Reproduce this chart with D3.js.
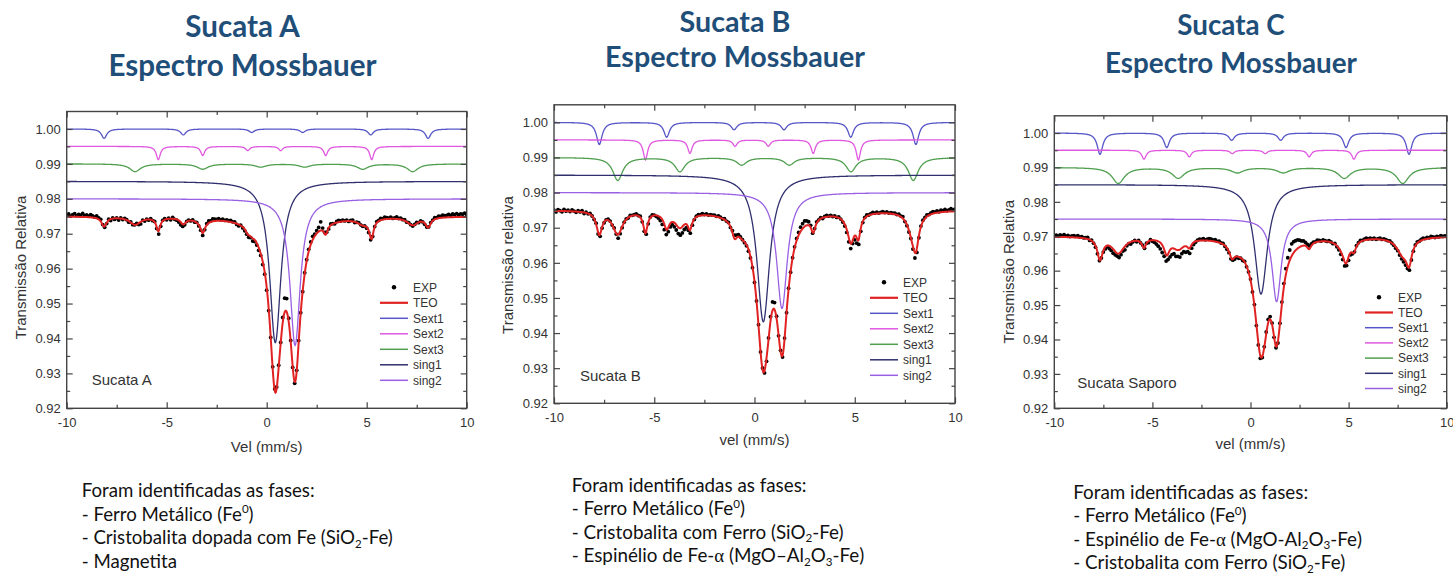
<!DOCTYPE html>
<html>
<head>
<meta charset="utf-8">
<script src="https://cdn.jsdelivr.net/npm/d3@7"></script>
<style>
  body { margin: 0; background: #fff; }
  svg { display: block; }
</style>
</head>
<body>
<svg id="chart" width="1453" height="574"></svg>
<script>
// ---- data ----
var velTicks = [-10, -5, 0, 5, 10];
var velMinor = [-7.5, -2.5, 2.5, 7.5];
var transTicks = [0.92, 0.93, 0.94, 0.95, 0.96, 0.97, 0.98, 0.99, 1.00];
var transMinor = [0.925, 0.935, 0.945, 0.955, 0.965, 0.975, 0.985, 0.995];
var legendNames = ["EXP", "TEO", "Sext1", "Sext2", "Sext3", "sing1", "sing2"];

var titles = ["Sucata A", "Sucata B", "Sucata C"];
var sampleLabels = ["Sucata A", "Sucata B", "Sucata Saporo"];
var xTitles = ["Vel (mm/s)", "vel (mm/s)", "vel (mm/s)"];
var yTitles = ["Transmissão Relativa", "Transmissão relativa", "Transmissão Relativa"];

// fitted lines: positions (mm/s), depths, half widths, baselines (Sext1, Sext2, Sext3, sing1, sing2, TEO)
var posA = [[-8.13, -4.17, -0.75, 1.80, 5.20, 8.07],
            [-5.42, -3.20, -0.95, 0.70, 2.95, 5.25],
            [-6.58, -3.20, -0.30, 1.90, 4.80, 7.30],
            [0.43], [1.42]];
var depthA = [[0.0027, 0.0017, 0.0010, 0.0010, 0.0017, 0.0027],
              [0.0038, 0.0026, 0.0012, 0.0012, 0.0026, 0.0038],
              [0.0022, 0.0015, 0.0009, 0.0009, 0.0015, 0.0022],
              [0.0462], [0.0420]];
var hwhmA = [0.16, 0.12, 0.33, 0.34, 0.31];
var baseA = [1.000, 0.995, 0.990, 0.985, 0.980, 0.975];

var posB = [[-7.74, -4.38, -1.02, 1.47, 4.80, 8.05],
            [-5.44, -3.22, -0.97, 0.69, 2.93, 5.18],
            [-6.82, -3.72, -0.64, 1.74, 4.81, 7.92],
            [0.44], [1.37]];
var depthB = [[0.0063, 0.0042, 0.0021, 0.0021, 0.0042, 0.0063],
              [0.0057, 0.0038, 0.0018, 0.0018, 0.0038, 0.0057],
              [0.0065, 0.0040, 0.0021, 0.0021, 0.0040, 0.0065],
              [0.0418], [0.0330]];
var hwhmB = [0.17, 0.13, 0.30, 0.38, 0.32];
var baseB = [1.000, 0.995, 0.990, 0.985, 0.980, 0.975];

var posC = [[-7.67, -4.27, -0.96, 1.54, 4.87, 8.08],
            [-5.43, -3.12, -0.93, 0.75, 2.99, 5.27],
            [-6.74, -3.68, -0.67, 1.67, 4.78, 7.76],
            [0.535], [1.33]];
var depthC = [[0.0062, 0.0042, 0.0021, 0.0021, 0.0042, 0.0062],
              [0.0026, 0.0019, 0.0010, 0.0010, 0.0019, 0.0026],
              [0.0046, 0.0031, 0.0015, 0.0015, 0.0031, 0.0046],
              [0.0318], [0.0240]];
var hwhmC = [0.17, 0.13, 0.38, 0.39, 0.28];
var baseC = [1.000, 0.995, 0.990, 0.985, 0.975, 0.970];

// EXP: deviation of each channel (-10 .. 10 mm/s, every 0.1) from TEO, in units of 1e-4
var residA = [
  4, 8, 2, 6, 9, 3, 7, 5, 10, 4,
  6, 3, 8, 5, 2, 7, 4, 6, 1, -3,
  -2, 3, -4, 2, -3, 1, -5, 2, -2, 3,
  1, -3, 2, -2, 0, 3, -4, -6, 2, -3,
  1, -2, 3, -1, 2, -4, -9, -5, 2, 3,
  -2, 2, -3, 4, -1, -2, -5, -8, -6, -3,
  1, 2, -1, 3, -2, 1, -3, -4, -7, -2,
  4, 6, 3, 7, 5, 4, 6, 3, 5, 2,
  4, 3, 5, 2, 3, -2, -4, 1, -3, -5,
  -4, -6, -3, -8, -5, -6, -8, -5, -9, -6,
  -8, -5, 0, 6, 4, 3, 5, 2, 15, 40,
  38, 10, 3, -2, -4, 2, 4, 1, -2, 3,
  3, 6, 8, 10, 6, 8, 12, 25, 8, 4,
  2, -3, 4, 1, -2, 3, 5, 2, 4, 1,
  3, -1, 2, 4, -2, 1, 3, 0, -2, 1,
  -3, -5, -6, -3, 1, 4, 2, 5, 3, 6,
  4, 2, 5, 1, 3, 6, 2, 4, 1, 3,
  -1, 2, 0, -2, 1, 3, -1, 2, 0, -3,
  -2, 1, 3, 2, 5, 3, 6, 4, 7, 5,
  6, 8, 5, 9, 7, 10, 6, 9, 8, 11,
  7];
var residB = [
  2, -3, 4, 1, -2, 5, 0, 3, -1, 4,
  1, -2, 3, 0, 4, -3, 2, -1, 3, 0,
  -2, 3, -4, -6, -3, -2, 1, 3, 2, -1,
  3, -2, -10, -6, -3, 1, 2, -1, 3, 1,
  2, 4, 1, 3, -2, -5, -8, -4, 2, 3,
  1, -3, -6, -10, -14, -16, -15, -12, -10, -8,
  -12, -15, -18, -20, -18, -14, -10, -8, -10, -6,
  -2, 2, 4, 3, 5, 2, 4, 1, 3, 2,
  3, 1, 4, 2, -1, 3, 0, 2, -2, 5,
  10, 8, 6, 3, 1, -2, -3, -5, -4, -2,
  -3, 0, 2, -2, 4, -6, -10, 5, 12, 24,
  20, 6, -3, 4, -5, 2, -1, 3, -2, 1,
  3, 6, 8, 12, 14, 16, 13, 10, 6, -2,
  2, 4, 1, 3, -2, 2, 4, 1, 3, 0,
  2, -1, 3, 0, -3, -5, -8, -12, -14, -10,
  -12, -15, -14, -8, -3, 2, 4, 1, 3, 5,
  2, 4, 1, 3, 5, 2, 4, 1, 3, 2,
  3, 1, 4, 2, 5, -2, -3, -5, -2, -8,
  -15, -12, -6, 2, 4, 3, 5, 2, 4, 6,
  3, 5, 2, 6, 4, 7, 3, 5, 8, 4,
  6];
var residC = [
  3, 5, 2, 6, 4, 7, 3, 5, 2, 4,
  5, 3, 6, 2, 4, 1, 3, 5, -2, 2,
  -2, -4, -5, -3, -1, -4, -6, -3, -8, -10,
  -12, -10, -8, -12, -9, -6, -10, -4, -2, -6,
  -2, 1, -3, 2, -1, 3, -2, 1, -4, 2,
  -3, -6, -10, -14, -18, -22, -20, -18, -16, -20,
  -18, -15, -20, -18, -22, -16, -14, -18, -12, -15,
  -10, -6, -2, 2, 4, 3, 5, 2, 4, 6,
  5, 3, 6, 2, 4, 1, 3, -2, -4, -3,
  -5, -3, -6, -2, -4, -1, -3, 2, -2, 0,
  3, -2, 4, -4, -6, -8, -3, 2, 6, 10,
  8, 4, -2, -4, -6, 2, 6, 10, 18, 25,
  30, 35, 32, 28, 25, 20, 15, 14, 10, 9,
  9, 6, 4, 2, 5, 3, 1, 4, 2, 0,
  3, 1, -2, 2, -3, -5, -8, -10, -12, -8,
  -10, -6, -3, 1, 3, 2, 4, 1, 3, 5,
  2, 4, 1, 3, 0, 2, 4, 1, 3, 2,
  1, 3, 0, -2, -4, -3, -6, -8, -10, -12,
  -8, -10, -6, -3, 2, 4, 1, 3, 5, 2,
  4, 2, 5, 3, 1, 4, 2, 5, 3, 4,
  3];

// notes below each chart: [text, kind]
var notesA = [
  [["Foram identificadas as fases:"]],
  [["- Ferro Metálico (Fe"], ["0", "sup"], [")"]],
  [["- Cristobalita dopada com Fe (SiO"], ["2", "sub"], ["-Fe)"]],
  [["- Magnetita"]]
];
var notesB = [
  [["Foram identificadas as fases:"]],
  [["- Ferro Metálico (Fe"], ["0", "sup"], [")"]],
  [["- Cristobalita com Ferro (SiO"], ["2", "sub"], ["-Fe)"]],
  [["- Espinélio de Fe-"], ["α", "greek"], [" (MgO–Al"], ["2", "sub"], ["O"], ["3", "sub"], ["-Fe)"]]
];
var notesC = [
  [["Foram identificadas as fases:"]],
  [["- Ferro Metálico (Fe"], ["0", "sup"], [")"]],
  [["- Espinélio de Fe-"], ["α", "greek"], [" (MgO-Al"], ["2", "sub"], ["O"], ["3", "sub"], ["-Fe)"]],
  [["- Cristobalita com Ferro (SiO"], ["2", "sub"], ["-Fe)"]]
];

// ---- styles / layout ----
var compColors = ["#5656c8", "#e058e0", "#4f9f4f", "#30306f", "#9a60e4"];
var teoColor = "#e02222";
var titleColor = "#1f4e79";
var axisFont = "'Liberation Sans', Arial, sans-serif";
var bodyFont = "Lato, 'Open Sans', sans-serif";

var layout = [
  {left: 66.7, right: 466.7, top: 111.5, bottom: 408.3, titleCx: 242.5, t1: 37.3, t2: 76, titleW: 268,
   noteX: 81.7, noteY: 497, noteW: 233, legX: 380, legY: 287.3, legDy: 15.5,
   sampleX: 91.7, sampleY: 385, yTitleX: 20.7, yTitleY: 267.5, xTitleY: 446.7},
  {left: 554, right: 955, top: 104.8, bottom: 403.3, titleCx: 735, t1: 31.7, t2: 66.7, titleW: 260,
   noteX: 571.7, noteY: 491.5, noteW: 235, legX: 870, legY: 282.3, legDy: 15.5,
   sampleX: 580, sampleY: 381, yTitleX: 507.3, yTitleY: 265, xTitleY: 440},
  {left: 1054.3, right: 1446.7, top: 115.8, bottom: 408.3, titleCx: 1231, t1: 35, t2: 73.3, titleW: 252,
   noteX: 1073.3, noteY: 498.5, noteW: 235, legX: 1365, legY: 297.3, legDy: 15.2,
   sampleX: 1077.3, sampleY: 388.3, yTitleX: 1009, yTitleY: 271.7, xTitleY: 444.3}
];

var panels = [
  {pos: posA, depth: depthA, hwhm: hwhmA, base: baseA, resid: residA, notes: notesA},
  {pos: posB, depth: depthB, hwhm: hwhmB, base: baseB, resid: residB, notes: notesB},
  {pos: posC, depth: depthC, hwhm: hwhmC, base: baseC, resid: residC, notes: notesC}
];

var svg = d3.select("#chart");

// lorentzian absorption of one component at velocity v
function absorb(v, pos, depth, g) {
  var s = 0;
  for (var i = 0; i < pos.length; i++) {
    s += depth[i] * g * g / ((v - pos[i]) * (v - pos[i]) + g * g);
  }
  return s;
}

function fitWidth(sel, target) {
  var w = sel.node().getComputedTextLength();
  var fs = parseFloat(sel.attr("font-size"));
  sel.attr("font-size", fs * target / w);
  return fs * target / w;
}

panels.forEach(function(p, k) {
  var L = layout[k];
  if (p.resid.length != 201) throw new Error("resid length " + k + ": " + p.resid.length);

  var x = d3.scaleLinear().domain([-10, 10]).range([L.left, L.right]);
  var y = d3.scaleLinear().domain([0.92, 1.005]).range([L.bottom, L.top]);

  function teo(v) {
    var s = 0;
    for (var c = 0; c < 5; c++) s += absorb(v, p.pos[c], p.depth[c], p.hwhm[c]);
    return p.base[5] - s;
  }

  var g = svg.append("g");
  var clip = "clip" + k;
  g.append("clipPath").attr("id", clip).append("rect")
    .attr("x", L.left).attr("y", L.top)
    .attr("width", L.right - L.left).attr("height", L.bottom - L.top);

  var plot = g.append("g").attr("clip-path", "url(#" + clip + ")");
  var vel = d3.range(-10, 10.0001, 0.02);
  var line = d3.line().x(function(d) { return x(d[0]); }).y(function(d) { return y(d[1]); });

  // EXP
  var channels = p.resid.map(function(r, i) { return -10 + i * 0.1; });
  plot.selectAll(".exp").data(channels).enter().append("circle")
    .attr("class", "exp")
    .attr("cx", function(d) { return x(d); })
    .attr("cy", function(d, i) { return y(teo(d) + p.resid[i] * 1e-4); })
    .attr("r", 1.9)
    .attr("fill", "#000");

  // TEO
  plot.append("path")
    .attr("d", line(vel.map(function(v) { return [v, teo(v)]; })))
    .attr("fill", "none").attr("stroke", teoColor).attr("stroke-width", 2);

  // components
  for (var c = 0; c < 5; c++) {
    (function(c) {
      plot.append("path")
        .attr("d", line(vel.map(function(v) { return [v, p.base[c] - absorb(v, p.pos[c], p.depth[c], p.hwhm[c])]; })))
        .attr("fill", "none").attr("stroke", compColors[c]).attr("stroke-width", 1.3);
    })(c);
  }

  // axes (ticks inward, mirrored)
  function styleAxis(a) {
    a.select(".domain").remove();
    a.selectAll(".tick line").attr("stroke", "#444").attr("stroke-width", 1.2);
    a.selectAll("text").attr("font-family", axisFont).attr("font-size", 13).attr("fill", "#333");
  }
  var ax = g.append("g").attr("transform", "translate(0," + L.bottom + ")")
    .call(d3.axisBottom(x).tickValues(velTicks).tickSize(-6).tickPadding(9).tickFormat(function(d) { return String(d); }));
  styleAxis(ax);
  styleAxis(g.append("g").attr("transform", "translate(0," + L.bottom + ")")
    .call(d3.axisBottom(x).tickValues(velMinor).tickSize(-3.5).tickFormat("")));
  styleAxis(g.append("g").attr("transform", "translate(0," + L.top + ")")
    .call(d3.axisTop(x).tickValues(velTicks).tickSize(-6).tickFormat("")));
  styleAxis(g.append("g").attr("transform", "translate(0," + L.top + ")")
    .call(d3.axisTop(x).tickValues(velMinor).tickSize(-3.5).tickFormat("")));
  var ay = g.append("g").attr("transform", "translate(" + L.left + ",0)")
    .call(d3.axisLeft(y).tickValues(transTicks).tickSize(-6).tickPadding(6).tickFormat(d3.format(".2f")));
  styleAxis(ay);
  styleAxis(g.append("g").attr("transform", "translate(" + L.left + ",0)")
    .call(d3.axisLeft(y).tickValues(transMinor).tickSize(-3.5).tickFormat("")));
  styleAxis(g.append("g").attr("transform", "translate(" + L.right + ",0)")
    .call(d3.axisRight(y).tickValues(transTicks).tickSize(-6).tickFormat("")));
  styleAxis(g.append("g").attr("transform", "translate(" + L.right + ",0)")
    .call(d3.axisRight(y).tickValues(transMinor).tickSize(-3.5).tickFormat("")));

  g.append("rect")
    .attr("x", L.left).attr("y", L.top)
    .attr("width", L.right - L.left).attr("height", L.bottom - L.top)
    .attr("fill", "none").attr("stroke", "#444").attr("stroke-width", 1.4);

  // axis titles
  g.append("text")
    .attr("x", (L.left + L.right) / 2).attr("y", L.xTitleY + 5)
    .attr("text-anchor", "middle")
    .attr("font-family", axisFont).attr("font-size", 15).attr("fill", "#333")
    .text(xTitles[k]);
  g.append("text")
    .attr("transform", "translate(" + L.yTitleX + "," + L.yTitleY + ")rotate(-90)")
    .attr("text-anchor", "middle").attr("dy", "0.35em")
    .attr("font-family", axisFont).attr("font-size", 15).attr("fill", "#333")
    .text(yTitles[k]);

  // sample label
  g.append("text")
    .attr("x", L.sampleX).attr("y", L.sampleY)
    .attr("font-family", axisFont).attr("font-size", 15).attr("fill", "#333")
    .text(sampleLabels[k]);

  // legend
  var leg = g.selectAll(".leg").data(legendNames).enter().append("g")
    .attr("transform", function(d, i) { return "translate(" + L.legX + "," + (L.legY + i * L.legDy) + ")"; });
  leg.each(function(d, i) {
    var s = d3.select(this);
    if (i == 0) {
      s.append("circle").attr("cx", 14).attr("cy", 0).attr("r", 2.2).attr("fill", "#000");
    } else {
      s.append("line").attr("x1", 0).attr("x2", 28).attr("y1", 0).attr("y2", 0)
        .attr("stroke", i == 1 ? teoColor : compColors[i - 2])
        .attr("stroke-width", i == 1 ? 2.2 : 1.5);
    }
    s.append("text").attr("x", 33).attr("dy", "0.36em")
      .attr("font-family", axisFont).attr("font-size", 12).attr("fill", "#333")
      .text(d);
  });

  // title
  var t1 = svg.append("text")
    .attr("x", L.titleCx).attr("y", L.t1).attr("text-anchor", "middle")
    .attr("font-family", bodyFont).attr("font-weight", 700).attr("font-size", 26)
    .attr("fill", titleColor).text(titles[k]);
  var t2 = svg.append("text")
    .attr("x", L.titleCx).attr("y", L.t2).attr("text-anchor", "middle")
    .attr("font-family", bodyFont).attr("font-weight", 700).attr("font-size", 26)
    .attr("fill", titleColor).text("Espectro Mossbauer");
  var tfs = fitWidth(t2, L.titleW);
  t1.attr("font-size", tfs);

  // notes (sub/superscripts shifted with dy, then shifted back)
  var noteFs = 17;
  p.notes.forEach(function(segs, li) {
    var t = svg.append("text")
      .attr("x", L.noteX).attr("y", L.noteY + li * 23.5)
      .attr("font-family", bodyFont).attr("font-size", noteFs).attr("fill", "#111");
    var shift = 0;
    segs.forEach(function(s) {
      var ts = t.append("tspan").text(s[0]);
      var want = 0;
      if (s[1] == "sup") want = -0.38 * noteFs;
      if (s[1] == "sub") want = 0.2 * noteFs;
      if (s[1] == "sup" || s[1] == "sub") ts.attr("font-size", 0.62 * noteFs);
      if (s[1] == "greek") ts.attr("font-family", "'Liberation Serif', serif");
      if (want - shift != 0) ts.attr("dy", want - shift);
      shift = want;
    });
    if (li == 0) noteFs = fitWidth(t, L.noteW);
  });
});
</script>
</body>
</html>
